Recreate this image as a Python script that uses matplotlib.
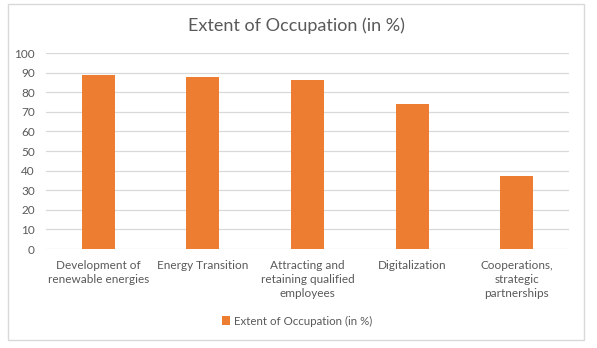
import matplotlib
matplotlib.use("Agg")
import matplotlib.pyplot as plt
from matplotlib.patches import Rectangle

plt.rcParams['font.family'] = ['Lato', 'DejaVu Sans']

categories = [
    "Development of\nrenewable energies",
    "Energy Transition",
    "Attracting and\nretaining qualified\nemployees",
    "Digitalization",
    "Cooperations,\nstrategic\npartnerships",
]
values = [89, 88, 86, 74, 37]
yticks = [0, 10, 20, 30, 40, 50, 60, 70, 80, 90, 100]
series_name = "Extent of Occupation (in %)"
title = "Extent of Occupation (in %)"

bar_color = "#ED7D31"
text_color = "#595959"
grid_color = "#D9D9D9"

W, H = 597, 348
fig = plt.figure(figsize=(W / 100, H / 100), dpi=100)
fig.patch.set_facecolor("white")

# chart frame
fig.add_artist(Rectangle((8 / W, 1 - 340 / H), 576 / W, 336 / H,
                         transform=fig.transFigure, fill=False,
                         edgecolor="#D9D9D9", linewidth=1.0))

ax = fig.add_axes([46 / W, 1 - 249 / H, 523 / W, 196 / H])
x = list(range(len(categories)))
bars = ax.bar(x, values, width=0.315, color=bar_color, label=series_name, zorder=3)

ax.set_xlim(-0.5, len(categories) - 0.5)
ax.set_ylim(0, 100)
ax.set_yticks(yticks)
ax.set_yticklabels([str(v) for v in yticks], fontsize=8.5, color=text_color)
ax.set_xticks(x)
ax.set_xticklabels(categories, fontsize=8.5, color=text_color, linespacing=1.35)
ax.tick_params(axis="both", length=0)
ax.tick_params(axis="x", pad=8)
ax.tick_params(axis="y", pad=8)
ax.grid(axis="y", color=grid_color, linewidth=0.9, zorder=0)
for s in ax.spines.values():
    s.set_visible(False)

fig.text(0.5 - 2 / W, 1 - 26 / H, title, ha="center", va="center",
         fontsize=13, color=text_color)

fig.legend(handles=[bars], labels=[series_name], loc="center",
           bbox_to_anchor=(297 / W, 1 - 321 / H), frameon=False,
           fontsize=8.3, labelcolor=text_color, handlelength=0.7,
           handleheight=0.7, handletextpad=0.3)

fig.savefig("out.png", dpi=100)
